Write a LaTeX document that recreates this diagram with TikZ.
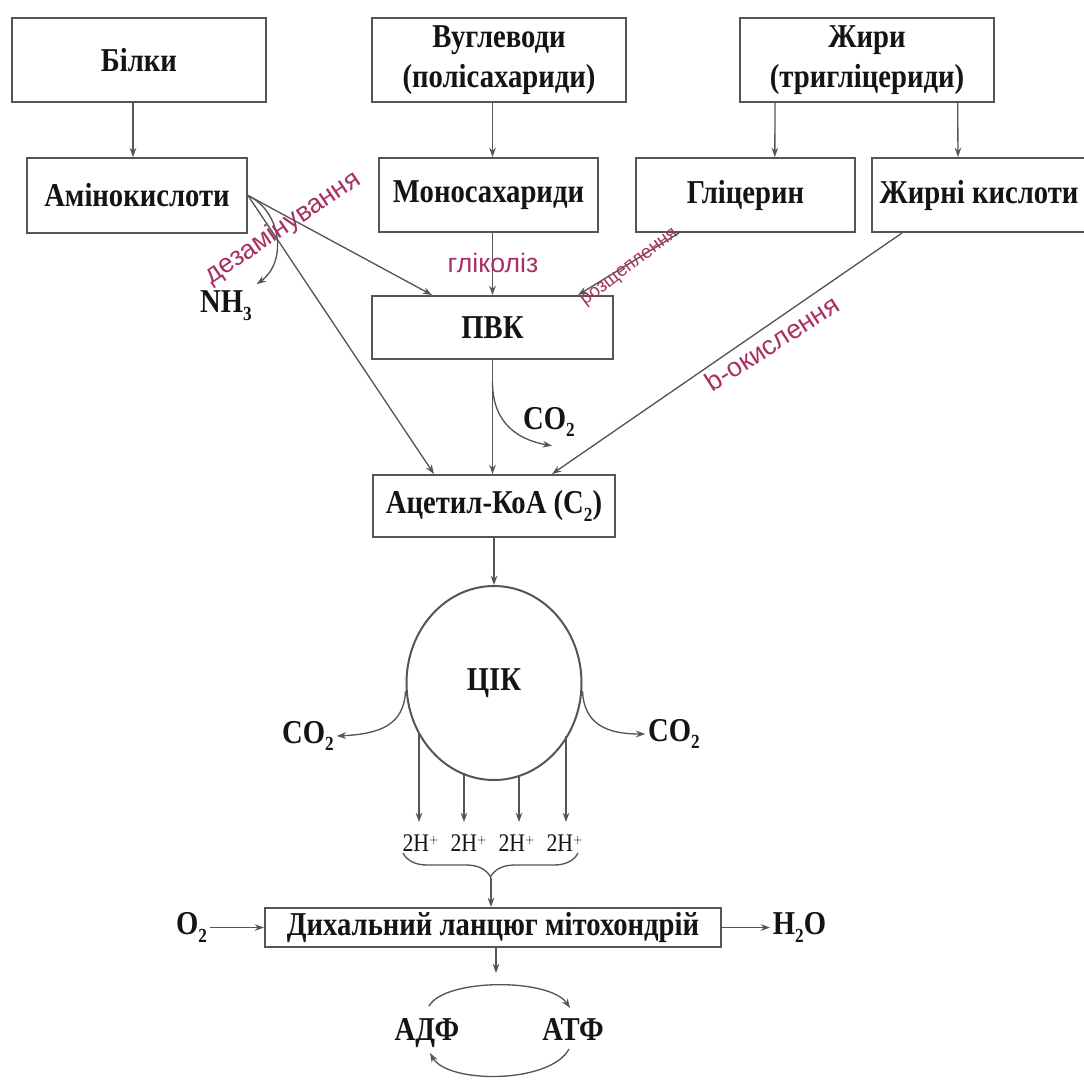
\documentclass[tikz,border=0pt]{standalone}
\usepackage{fontspec}
\setmainfont{Liberation Serif}[FakeStretch=0.86]
\newfontfamily\labfont{Liberation Sans}
\usetikzlibrary{arrows.meta,calc,decorations.pathreplacing,shapes.geometric}

\definecolor{edge}{RGB}{85,85,85}
\definecolor{ink}{RGB}{20,20,20}
\definecolor{lab}{RGB}{168,48,98}

% chemical subscript in the running font
\newcommand{\lowsub}[1]{\raisebox{-0.5ex}{\fontsize{15}{15}\selectfont #1}}

\begin{document}
\begin{tikzpicture}[x=0.75pt,y=-0.75pt,
  stepbox/.style={draw=edge, line width=1.5pt, rectangle, inner sep=0pt, text=ink,
                  font=\bfseries\fontsize{25}{30}\selectfont, align=center},
  plain/.style={inner sep=2pt, text=ink, font=\bfseries\fontsize{25}{29}\selectfont},
  hplus/.style={inner sep=0pt, text=ink, font=\fontsize{19}{19}\selectfont},
  arr/.style={draw=edge, line width=1pt, -{Stealth[length=7pt,width=5pt]}},
  lbl/.style={text=lab, font=\labfont\fontsize{20}{20}\selectfont, inner sep=0pt},
]
\useasboundingbox[fill=white] (0,0) rectangle (1084,1079);

% sources
\node[stepbox, minimum width=190.5pt, minimum height=63pt] (bilky) at (139,60) {Білки};
\node[stepbox, minimum width=190.5pt, minimum height=63pt] (vugl) at (499,60) {Вуглеводи\\(полісахариди)};
\node[stepbox, minimum width=190.5pt, minimum height=63pt] (zhyry) at (867,60) {Жири\\(тригліцериди)};

% monomers
\node[stepbox, minimum width=165pt, minimum height=56pt] (amino) at (137,195.5) {Амінокислоти};
\node[stepbox, minimum width=164.25pt, minimum height=55.5pt] (monos) at (488.5,195) {Моносахариди};
\node[stepbox, minimum width=164.25pt, minimum height=55.5pt] (glic) at (745.5,195) {Гліцерин};
\node[stepbox, minimum width=160.5pt, minimum height=55.5pt] (fatac) at (979,195) {Жирні кислоти};

% intermediates
\node[stepbox, minimum width=180.75pt, minimum height=47.25pt] (pvk) at (492.5,327.5) {ПВК};
\node[stepbox, minimum width=181.5pt, minimum height=46.5pt] (acet) at (494,506) {Ацетил-КоА (С\lowsub{2})};
\node[stepbox, ellipse, minimum width=131.25pt, minimum height=145.5pt] (tca) at (494,683) {ЦІК};
\node[stepbox, minimum width=342pt, minimum height=29.25pt] (resp) at (493,927.5) {Дихальний ланцюг мітохондрій};

% small products
\node[plain] (nh3) at (226,306) {NH\lowsub{3}};
\node[plain] (co2a) at (549,422) {CO\lowsub{2}};
\node[plain] (co2l) at (308,736) {CO\lowsub{2}};
\node[plain] (co2r) at (674,734) {CO\lowsub{2}};
\node[plain, anchor=east] (o2) at (210,927.5) {O\lowsub{2}};
\node[plain, anchor=west] (h2o) at (770,927.5) {H\lowsub{2}O};
\node[plain, anchor=base] (adp) at (427,1040) {АДФ};
\node[plain, anchor=base] (atp) at (573,1040) {АТФ};

\node[hplus] (h1) at (421,843) {2H$^{\scriptscriptstyle+}$};
\node[hplus] (h2) at (469,843) {2H$^{\scriptscriptstyle+}$};
\node[hplus] (h3) at (517,843) {2H$^{\scriptscriptstyle+}$};
\node[hplus] (h4) at (565,843) {2H$^{\scriptscriptstyle+}$};

% hydrolysis
\draw[arr] ([xshift=-4.5pt]bilky.south) -- ([xshift=-3pt]amino.north);
\draw[arr] (vugl.south -| pvk.north) -- (monos.north -| pvk.north);
\draw[arr] ([xshift=-69pt]zhyry.south) -- ([xshift=22pt]glic.north);
\draw[arr] ([xshift=68pt]zhyry.south) -- ([xshift=-15.75pt]fatac.north);

% towards pyruvate and acetyl-CoA
\draw[arr] (amino.east) .. controls (282,212) and (287,262) .. ($(nh3.north east)+(2,-4)$);
\draw[arr] (amino.east) -- ($(pvk.north west)+(61,0)$);
\draw[arr] (amino.east) -- ($(acet.north west)+(62,0)$);
\draw[arr] (monos.south -| pvk.north) -- (pvk.north);
\draw[arr] ($(glic.south west)+(44,0)$) -- ($(pvk.north east)+(-36,0)$);
\draw[arr] ($(fatac.south west)+(31,0)$) -- ($(acet.north west)+(180,0)$);
\draw[arr] (pvk.south) -- (pvk.south |- acet.north);
\draw[arr] ($(pvk.south)+(0,22)$) .. controls (492.5,425) and (520,440) .. ($(co2a.south)+(3,6)$);

% process labels
\node[lbl, rotate=34] (l1) at (283,228) {дезамінування};
\node[lbl] (l2) at (493,263) {гліколіз};
\node[lbl, rotate=37, font=\labfont\fontsize{14}{14}\selectfont] (l3) at (630,268) {розщеплення};
\node[lbl, rotate=32.5] (l4) at (772,343) {b-окислення};

% citric acid cycle
\draw[arr] (acet.south) -- (tca.north);
\draw[arr] (tca.west) ++(0,8) .. controls (404,725) and (380,734) .. (co2l.east);
\draw[arr] (tca.east) ++(0,8) .. controls (584,725) and (608,734) .. (co2r.west);

\coordinate (c1) at ($(tca.center)+(-75,50)$);
\coordinate (c2) at ($(tca.center)+(-30,90)$);
\coordinate (c3) at ($(tca.center)+(25,92)$);
\coordinate (c4) at ($(tca.center)+(72,53)$);
\coordinate (e1) at (419,822);
\coordinate (e2) at (464,822);
\coordinate (e3) at (519,822);
\coordinate (e4) at (566,822);
\draw[arr] (c1) -- (e1);
\draw[arr] (c2) -- (e2);
\draw[arr] (c3) -- (e3);
\draw[arr] (c4) -- (e4);

\draw[draw=edge, line width=1pt, decoration={brace, mirror, amplitude=18pt}, decorate]
  (403,853) -- (578,853);
\coordinate (tip) at (491,878);
\draw[arr] (tip) -- (resp.north -| tip);

% respiratory chain and ATP synthesis
\draw[arr] (o2) -- (resp.west);
\draw[arr] (resp.east) -- (h2o);
\coordinate (cyc) at (496,973);
\coordinate (adpT) at (429,1006);
\coordinate (atpT) at (570,1008);
\coordinate (atpB) at (569,1049);
\coordinate (adpB) at (430,1053);
\draw[arr] (resp.south -| cyc) -- (cyc);
\draw[arr] (adpT) .. controls (445,978) and (550,978) .. (atpT);
\draw[arr] (atpB) .. controls (550,1084) and (448,1084) .. (adpB);
\end{tikzpicture}
\end{document}
